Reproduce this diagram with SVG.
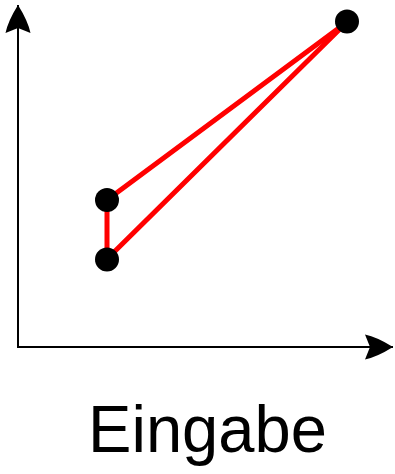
<svg xmlns="http://www.w3.org/2000/svg" width="395" height="474" viewBox="0 0 395 474">
<style>
.axis{stroke:#000;stroke-width:2;fill:none}
.edge{stroke:#ff0000;stroke-width:5;fill:none;stroke-linecap:round}
.pt{fill:#000}
.lbl{font-family:"Liberation Sans",Arial,sans-serif;font-size:66px;fill:#000}
</style>
<defs>
<marker id="ah" markerUnits="userSpaceOnUse" markerWidth="32" markerHeight="32" viewBox="0 0 32 32" refX="28" refY="16" orient="auto">
<path d="M28,16 Q12,6 0,3.5 L5,16 L0,28.5 Q12,26 28,16 Z" fill="#000"/>
</marker>
</defs>
<g id="axes">
<path class="axis" d="M18,347 L18,5" marker-end="url(#ah)"/>
<path class="axis" d="M17,347 L393,347" marker-end="url(#ah)"/>
</g>
<g id="connectors">
<line class="edge" x1="107" y1="200" x2="347" y2="22"/>
<line class="edge" x1="107" y1="259" x2="347" y2="22"/>
<line class="edge" x1="107" y1="200" x2="107" y2="259"/>
</g>
<g id="p1"><circle class="pt" cx="107" cy="200" r="12"/></g>
<g id="p2"><circle class="pt" cx="107" cy="259.5" r="12"/></g>
<g id="p3"><circle class="pt" cx="347" cy="21.5" r="12"/></g>
<g id="label"><text class="lbl" x="207.5" y="452" text-anchor="middle" textLength="239" lengthAdjust="spacingAndGlyphs">Eingabe</text></g>
</svg>
